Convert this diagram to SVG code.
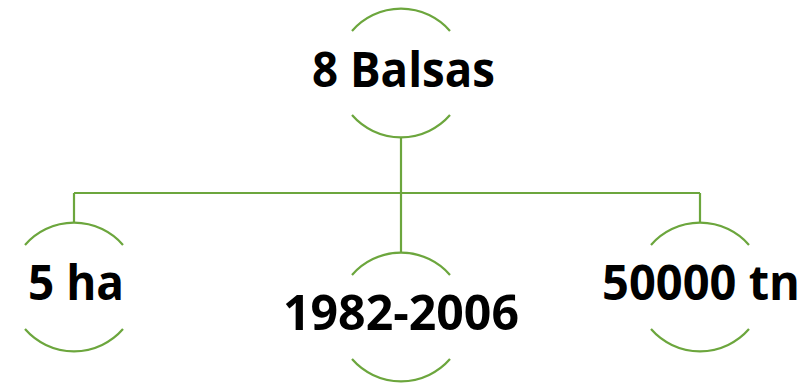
<svg xmlns="http://www.w3.org/2000/svg" width="810" height="384" viewBox="0 0 810 384">
<style>
.arc{fill:none;stroke:#6CA63D;stroke-width:2.2}
.con{fill:none;stroke:#6CA63D;stroke-width:2.2}
.lbl{font-family:"Open Sans","Noto Sans",sans-serif;font-weight:bold;font-size:48px;fill:#000;text-anchor:middle}
</style>
<rect width="810" height="384" fill="#fff"/>
<g id="connectors">
<path class="con" d="M401,138 V193 M74,193 H700 M74,193 V222 M401,193 V252 M700,193 V222"/>
</g>
<g id="node-top">
<path class="arc" d="M352,31 A65,65 0 0 1 450,31"/>
<path class="arc" d="M450,115 A65,65 0 0 1 352,115"/>
<text class="lbl" x="403.5" y="87" textLength="183" lengthAdjust="spacingAndGlyphs">8 Balsas</text>
</g>
<g id="node-left">
<path class="arc" d="M25,245 A65,65 0 0 1 123,245"/>
<path class="arc" d="M123,329 A65,65 0 0 1 25,329"/>
<text class="lbl" x="76" y="300" textLength="96" lengthAdjust="spacingAndGlyphs">5 ha</text>
</g>
<g id="node-middle">
<path class="arc" d="M352,275 A65,65 0 0 1 450,275"/>
<path class="arc" d="M450,359 A65,65 0 0 1 352,359"/>
<text class="lbl" x="401" y="330" textLength="236" lengthAdjust="spacingAndGlyphs">1982-2006</text>
</g>
<g id="node-right">
<path class="arc" d="M651,245 A65,65 0 0 1 749,245"/>
<path class="arc" d="M749,329 A65,65 0 0 1 651,329"/>
<text class="lbl" x="701" y="300" textLength="198" lengthAdjust="spacingAndGlyphs">50000 tn</text>
</g>
</svg>
